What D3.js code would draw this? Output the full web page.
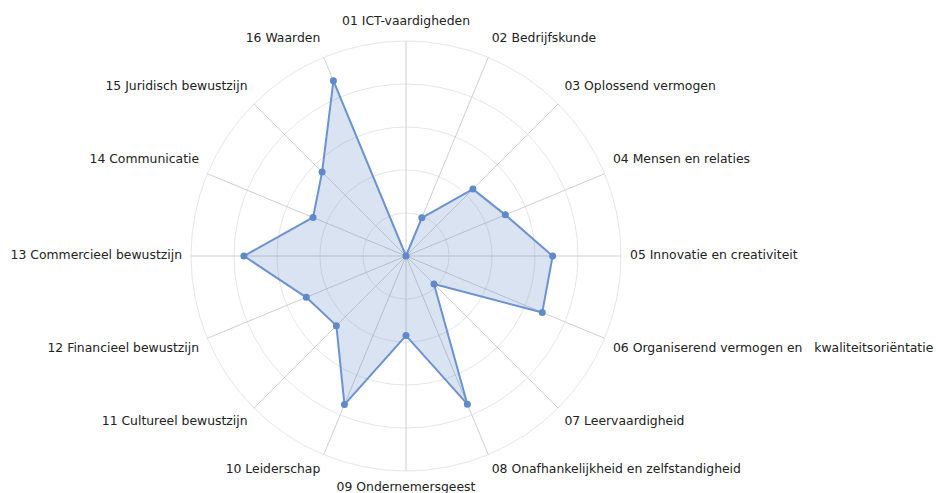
<!DOCTYPE html>
<html>
<head>
<meta charset="utf-8">
<script src="https://cdn.jsdelivr.net/npm/d3@7"></script>
<style>
  body { margin: 0; background: #fff; }
  svg text { font-family: "DejaVu Sans", Verdana, sans-serif; font-size: 12.4px; fill: #222; white-space: pre; }
</style>
</head>
<body>
<div id="chart"></div>
<script>
'use strict'
let categories = [
  '01 ICT-vaardigheden', '02 Bedrijfskunde', '03 Oplossend vermogen', '04 Mensen en relaties',
  '05 Innovatie en creativiteit', '06 Organiserend vermogen en   kwaliteitsoriëntatie',
  '07 Leervaardigheid', '08 Onafhankelijkheid en zelfstandigheid', '09 Ondernemersgeest',
  '10 Leiderschap', '11 Cultureel bewustzijn', '12 Financieel bewustzijn',
  '13 Commercieel bewustzijn', '14 Communicatie', '15 Juridisch bewustzijn', '16 Waarden'
];
let scores = [0, 0.96, 2.2, 2.5, 3.41, 3.43, 0.92, 3.73, 1.85, 3.74, 2.29, 2.51, 3.77, 2.34, 2.76, 4.41];
let rings = [1, 2, 3, 4, 5];

let width = 940, height = 493;
let cx = 406, cy = 256, outer = 215;

let svg = d3.select('#chart').append('svg')
  .attr('width', width).attr('height', height);

let r = d3.scaleLinear().domain([0, 5]).range([0, outer]);
let angle = d3.scaleLinear().domain([0, categories.length]).range([0, 2 * Math.PI]);

let g = svg.append('g').attr('transform', 'translate(' + cx + ',' + cy + ')');

// rings
g.selectAll('circle.ring')
  .data(rings)
  .enter().append('circle')
  .attr('class', 'ring')
  .attr('r', d => r(d))
  .attr('fill', 'none')
  .attr('stroke', '#e6e6e6')
  .attr('stroke-width', 1);

// spokes
g.selectAll('line.spoke')
  .data(categories)
  .enter().append('line')
  .attr('class', 'spoke')
  .attr('x1', 0).attr('y1', 0)
  .attr('x2', (d, i) => r(5) * Math.sin(angle(i)))
  .attr('y2', (d, i) => -r(5) * Math.cos(angle(i)))
  .attr('stroke', '#cfcfcf')
  .attr('stroke-width', 1);

// labels
g.selectAll('text.lbl')
  .data(categories)
  .enter().append('text')
  .attr('class', 'lbl')
  .attr('x', (d, i) => (r(5) + 9) * Math.sin(angle(i)))
  .attr('y', (d, i) => {
    let c = Math.cos(angle(i));
    let shift = c > 0.01 ? -12 : (c < -0.01 ? 6 : -2);
    return -(r(5) + 9) * c + shift;
  })
  .attr('dominant-baseline', 'central')
  .attr('text-anchor', (d, i) => {
    let s = Math.sin(angle(i));
    return s > 0.01 ? 'start' : (s < -0.01 ? 'end' : 'middle');
  })
  .text(d => d);

// area
let radial = d3.lineRadial()
  .angle((d, i) => angle(i))
  .radius(d => r(d))
  .curve(d3.curveLinearClosed);

g.append('path')
  .datum(scores)
  .attr('d', radial)
  .attr('fill', 'rgba(99,137,196,0.24)')
  .attr('stroke', '#6b93d0')
  .attr('stroke-width', 2)
  .attr('stroke-linejoin', 'round');

g.selectAll('circle.pt')
  .data(scores)
  .enter().append('circle')
  .attr('class', 'pt')
  .attr('cx', (d, i) => r(d) * Math.sin(angle(i)))
  .attr('cy', (d, i) => -r(d) * Math.cos(angle(i)))
  .attr('r', 3.5)
  .attr('fill', '#5f89c9');
</script>
</body>
</html>
